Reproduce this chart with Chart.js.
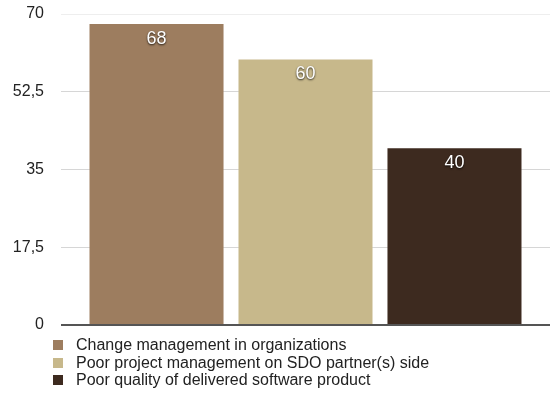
<!DOCTYPE html>
<html>
<head>
<meta charset="utf-8">
<script src="https://cdn.jsdelivr.net/npm/chart.js@4/dist/chart.umd.min.js"></script>
<style>
  html, body { margin: 0; padding: 0; background: #fff; }
  #wrap { position: relative; width: 553px; height: 394px; }
  #chart { position: absolute; left: 0; top: 0; }
  #legend { position: absolute; left: 53px; top: 336px; font: 16px "Liberation Sans", Arial, sans-serif; color: #222; }
  #legend div { height: 17.5px; line-height: 17.5px; white-space: nowrap; }
  #legend span.box { display: inline-block; width: 10px; height: 10px; margin-right: 13px; vertical-align: 0px; }
</style>
</head>
<body>
<div id="wrap">
  <canvas id="chart" width="553" height="340"></canvas>
  <div id="legend"></div>
</div>
<script>
// data
const seriesNames = [
  'Change management in organizations',
  'Poor project management on SDO partner(s) side',
  'Poor quality of delivered software product'
];
const seriesValues = [68, 60, 40];
const seriesColors = ['#9d7d5f', '#c7b88b', '#3d2a1f'];
const yTicks = [0, 17.5, 35, 52.5, 70];

const FONT = '"Liberation Sans", Arial, sans-serif';

// white value labels with a dark shadow at the top of each bar
const valueLabels = {
  id: 'valueLabels',
  afterDatasetsDraw(chart) {
    const ctx = chart.ctx;
    ctx.save();
    ctx.font = '18px ' + FONT;
    ctx.textAlign = 'center';
    ctx.textBaseline = 'middle';
    chart.data.datasets.forEach((ds, i) => {
      const bar = chart.getDatasetMeta(i).data[0];
      ctx.shadowColor = 'rgba(0,0,0,0.85)';
      ctx.shadowBlur = 2;
      ctx.shadowOffsetX = 0;
      ctx.shadowOffsetY = 1;
      ctx.fillStyle = '#fff';
      ctx.fillText(String(ds.data[0]), bar.x, bar.y + 16);
    });
    ctx.restore();
  }
};

const datasets = seriesNames.map((name, i) => ({
  label: name,
  data: [seriesValues[i]],
  backgroundColor: seriesColors[i],
  borderColor: 'rgba(255,255,255,0.25)',
  borderWidth: 1,
  barPercentage: 0.913,
  categoryPercentage: 0.914
}));

new Chart(document.getElementById('chart'), {
  type: 'bar',
  data: { labels: [''], datasets: datasets },
  options: {
    responsive: false,
    animation: false,
    layout: { padding: { left: 13, right: 3, top: 0, bottom: 0 } },
    plugins: { legend: { display: false }, tooltip: { enabled: false } },
    scales: {
      x: { display: false },
      y: {
        min: 0,
        max: 70,
        afterBuildTicks: axis => { axis.ticks = yTicks.map(v => ({ value: v })); },
        // tick padding also pads top/bottom, so pin the axis box here
        afterFit: axis => {
          axis.width = 48;
          axis.paddingTop = 14;
          axis.paddingBottom = 15;
        },
        ticks: {
          color: '#222',
          padding: 17,
          font: { family: FONT, size: 16 },
          callback: v => String(v).replace('.', ',')
        },
        grid: {
          drawTicks: false,
          color: c => c.tick.value === 0 ? '#555' : (c.tick.value === 70 ? '#eeeeee' : '#d6d6d6'),
          lineWidth: c => c.tick.value === 0 ? 2 : 1
        },
        border: { display: false }
      }
    }
  },
  plugins: [valueLabels]
});

// legend as html below the canvas
const legend = document.getElementById('legend');
seriesNames.forEach((name, i) => {
  const row = document.createElement('div');
  row.innerHTML = '<span class="box" style="background:' + seriesColors[i] + '"></span>' + name;
  legend.appendChild(row);
});
</script>
</body>
</html>
